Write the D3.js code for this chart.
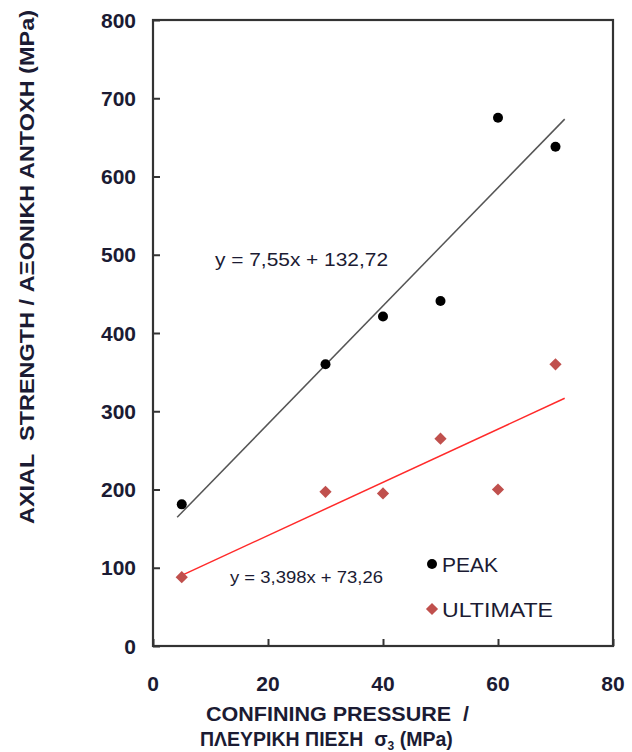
<!DOCTYPE html>
<html>
<head>
<meta charset="utf-8">
<script src="https://cdn.jsdelivr.net/npm/d3@7"></script>
<style>
  html, body { margin: 0; padding: 0; background: #fff; }
  svg { display: block; }
  text { font-family: Arial, "Liberation Sans", sans-serif; fill: #1b1b33; }
</style>
</head>
<body>
<svg id="chart" width="632" height="752"></svg>
<script>
// Confining pressure (MPa) for each test
const pressure = [5, 30, 40, 50, 60, 70];
// Peak axial strength (MPa)
const peakStrength = [181, 360, 421, 441, 675, 638];
// Ultimate (residual) axial strength (MPa)
const ultimateStrength = [88, 197, 195, 265, 200, 360];
// Linear fits: [slope, intercept]
const peakFit = [7.55, 132.72];
const ultimateFit = [3.398, 73.26];
const peakFitLabel = "y = 7,55x + 132,72";
const ultimateFitLabel = "y = 3,398x + 73,26";
const xTicks = [0, 20, 40, 60, 80];
const yTicks = [0, 100, 200, 300, 400, 500, 600, 700, 800];

const svg = d3.select("#chart");
const plotL = 153, plotR = 613, plotT = 20, plotB = 646;

const x = d3.scaleLinear().domain([0, 80]).range([plotL, plotR]);
const y = d3.scaleLinear().domain([0, 800]).range([plotB, plotT]);

// Inner ticks on left and bottom axes
const yAxis = d3.axisRight(y).tickValues(yTicks).tickSize(7).tickFormat("");
const xAxis = d3.axisTop(x).tickValues(xTicks).tickSize(7).tickFormat("");
svg.append("g").attr("transform", `translate(${plotL},0)`).call(yAxis)
  .call(g => g.select(".domain").remove())
  .call(g => g.selectAll("line").attr("stroke", "#333").attr("stroke-width", 2));
svg.append("g").attr("transform", `translate(0,${plotB})`).call(xAxis)
  .call(g => g.select(".domain").remove())
  .call(g => g.selectAll("line").attr("stroke", "#333").attr("stroke-width", 2));

// Tick labels
svg.append("g").selectAll("text").data(yTicks).join("text")
  .attr("x", plotL - 17).attr("y", d => y(d) + 7.5)
  .attr("text-anchor", "end").attr("font-size", 21).attr("font-weight", "bold")
  .text(d => d);
svg.append("g").selectAll("text").data(xTicks).join("text")
  .attr("x", d => x(d)).attr("y", plotB + 45)
  .attr("text-anchor", "middle").attr("font-size", 21).attr("font-weight", "bold")
  .text(d => d);

// Frame
svg.append("rect").attr("x", plotL).attr("y", plotT)
  .attr("width", plotR - plotL).attr("height", plotB - plotT)
  .attr("fill", "none").attr("stroke", "#333").attr("stroke-width", 2.2);

// Trend lines
const line = d3.line().x(d => x(d[0])).y(d => y(d[1]));
const fitPoints = (fit, x0, x1) => [[x0, fit[0] * x0 + fit[1]], [x1, fit[0] * x1 + fit[1]]];
svg.append("path").datum(fitPoints(peakFit, 4.2, 71.6)).attr("d", line)
  .attr("fill", "none").attr("stroke", "#555").attr("stroke-width", 1.5);
svg.append("path").datum(fitPoints(ultimateFit, 5, 71.6)).attr("d", line)
  .attr("fill", "none").attr("stroke", "#ff2a2a").attr("stroke-width", 1.5);

// Points
const diamond = d3.symbol().type(d3.symbolDiamond2).size(95);
svg.append("g").selectAll("path").data(pressure).join("path")
  .attr("transform", (d, i) => `translate(${x(d)},${y(ultimateStrength[i])})`)
  .attr("d", diamond).attr("fill", "#c0504d");
svg.append("g").selectAll("circle").data(pressure).join("circle")
  .attr("cx", d => x(d)).attr("cy", (d, i) => y(peakStrength[i]))
  .attr("r", 5).attr("fill", "#000");

// Equation labels
svg.append("text").attr("x", 215).attr("y", 266).attr("font-size", 18.5)
  .attr("textLength", 173).attr("lengthAdjust", "spacingAndGlyphs").text(peakFitLabel);
svg.append("text").attr("x", 230).attr("y", 583).attr("font-size", 17)
  .attr("textLength", 153).attr("lengthAdjust", "spacingAndGlyphs").text(ultimateFitLabel);

// Legend
svg.append("circle").attr("cx", 432).attr("cy", 564).attr("r", 5).attr("fill", "#000");
svg.append("text").attr("x", 442).attr("y", 572).attr("font-size", 21).text("PEAK");
svg.append("path").attr("transform", "translate(432,609)").attr("d", diamond).attr("fill", "#c0504d");
svg.append("text").attr("x", 442).attr("y", 617).attr("font-size", 21)
  .attr("textLength", 111).attr("lengthAdjust", "spacingAndGlyphs").text("ULTIMATE");

// Axis titles
svg.append("text").attr("transform", "translate(34,267) rotate(-90)")
  .attr("text-anchor", "middle").attr("font-size", 20).attr("font-weight", "bold")
  .attr("xml:space", "preserve")
  .attr("textLength", 514).attr("lengthAdjust", "spacingAndGlyphs")
  .text("AXIAL  STRENGTH / ΑΞΟΝΙΚΗ ΑΝΤΟΧΗ (MPa)");
svg.append("text").attr("x", 206).attr("y", 721).attr("font-size", 20).attr("font-weight", "bold")
  .attr("xml:space", "preserve")
  .attr("textLength", 263).attr("lengthAdjust", "spacingAndGlyphs")
  .text("CONFINING PRESSURE  /");
const t2 = svg.append("text").attr("x", 200).attr("y", 746).attr("font-size", 19.5).attr("font-weight", "bold");
t2.append("tspan").attr("xml:space", "preserve").text("ΠΛΕΥΡΙΚΗ ΠΙΕΣΗ  σ");
t2.append("tspan").attr("font-size", 12).attr("dy", 4).text("3");
t2.append("tspan").attr("dy", -4).text(" (MPa)");
</script>
</body>
</html>
